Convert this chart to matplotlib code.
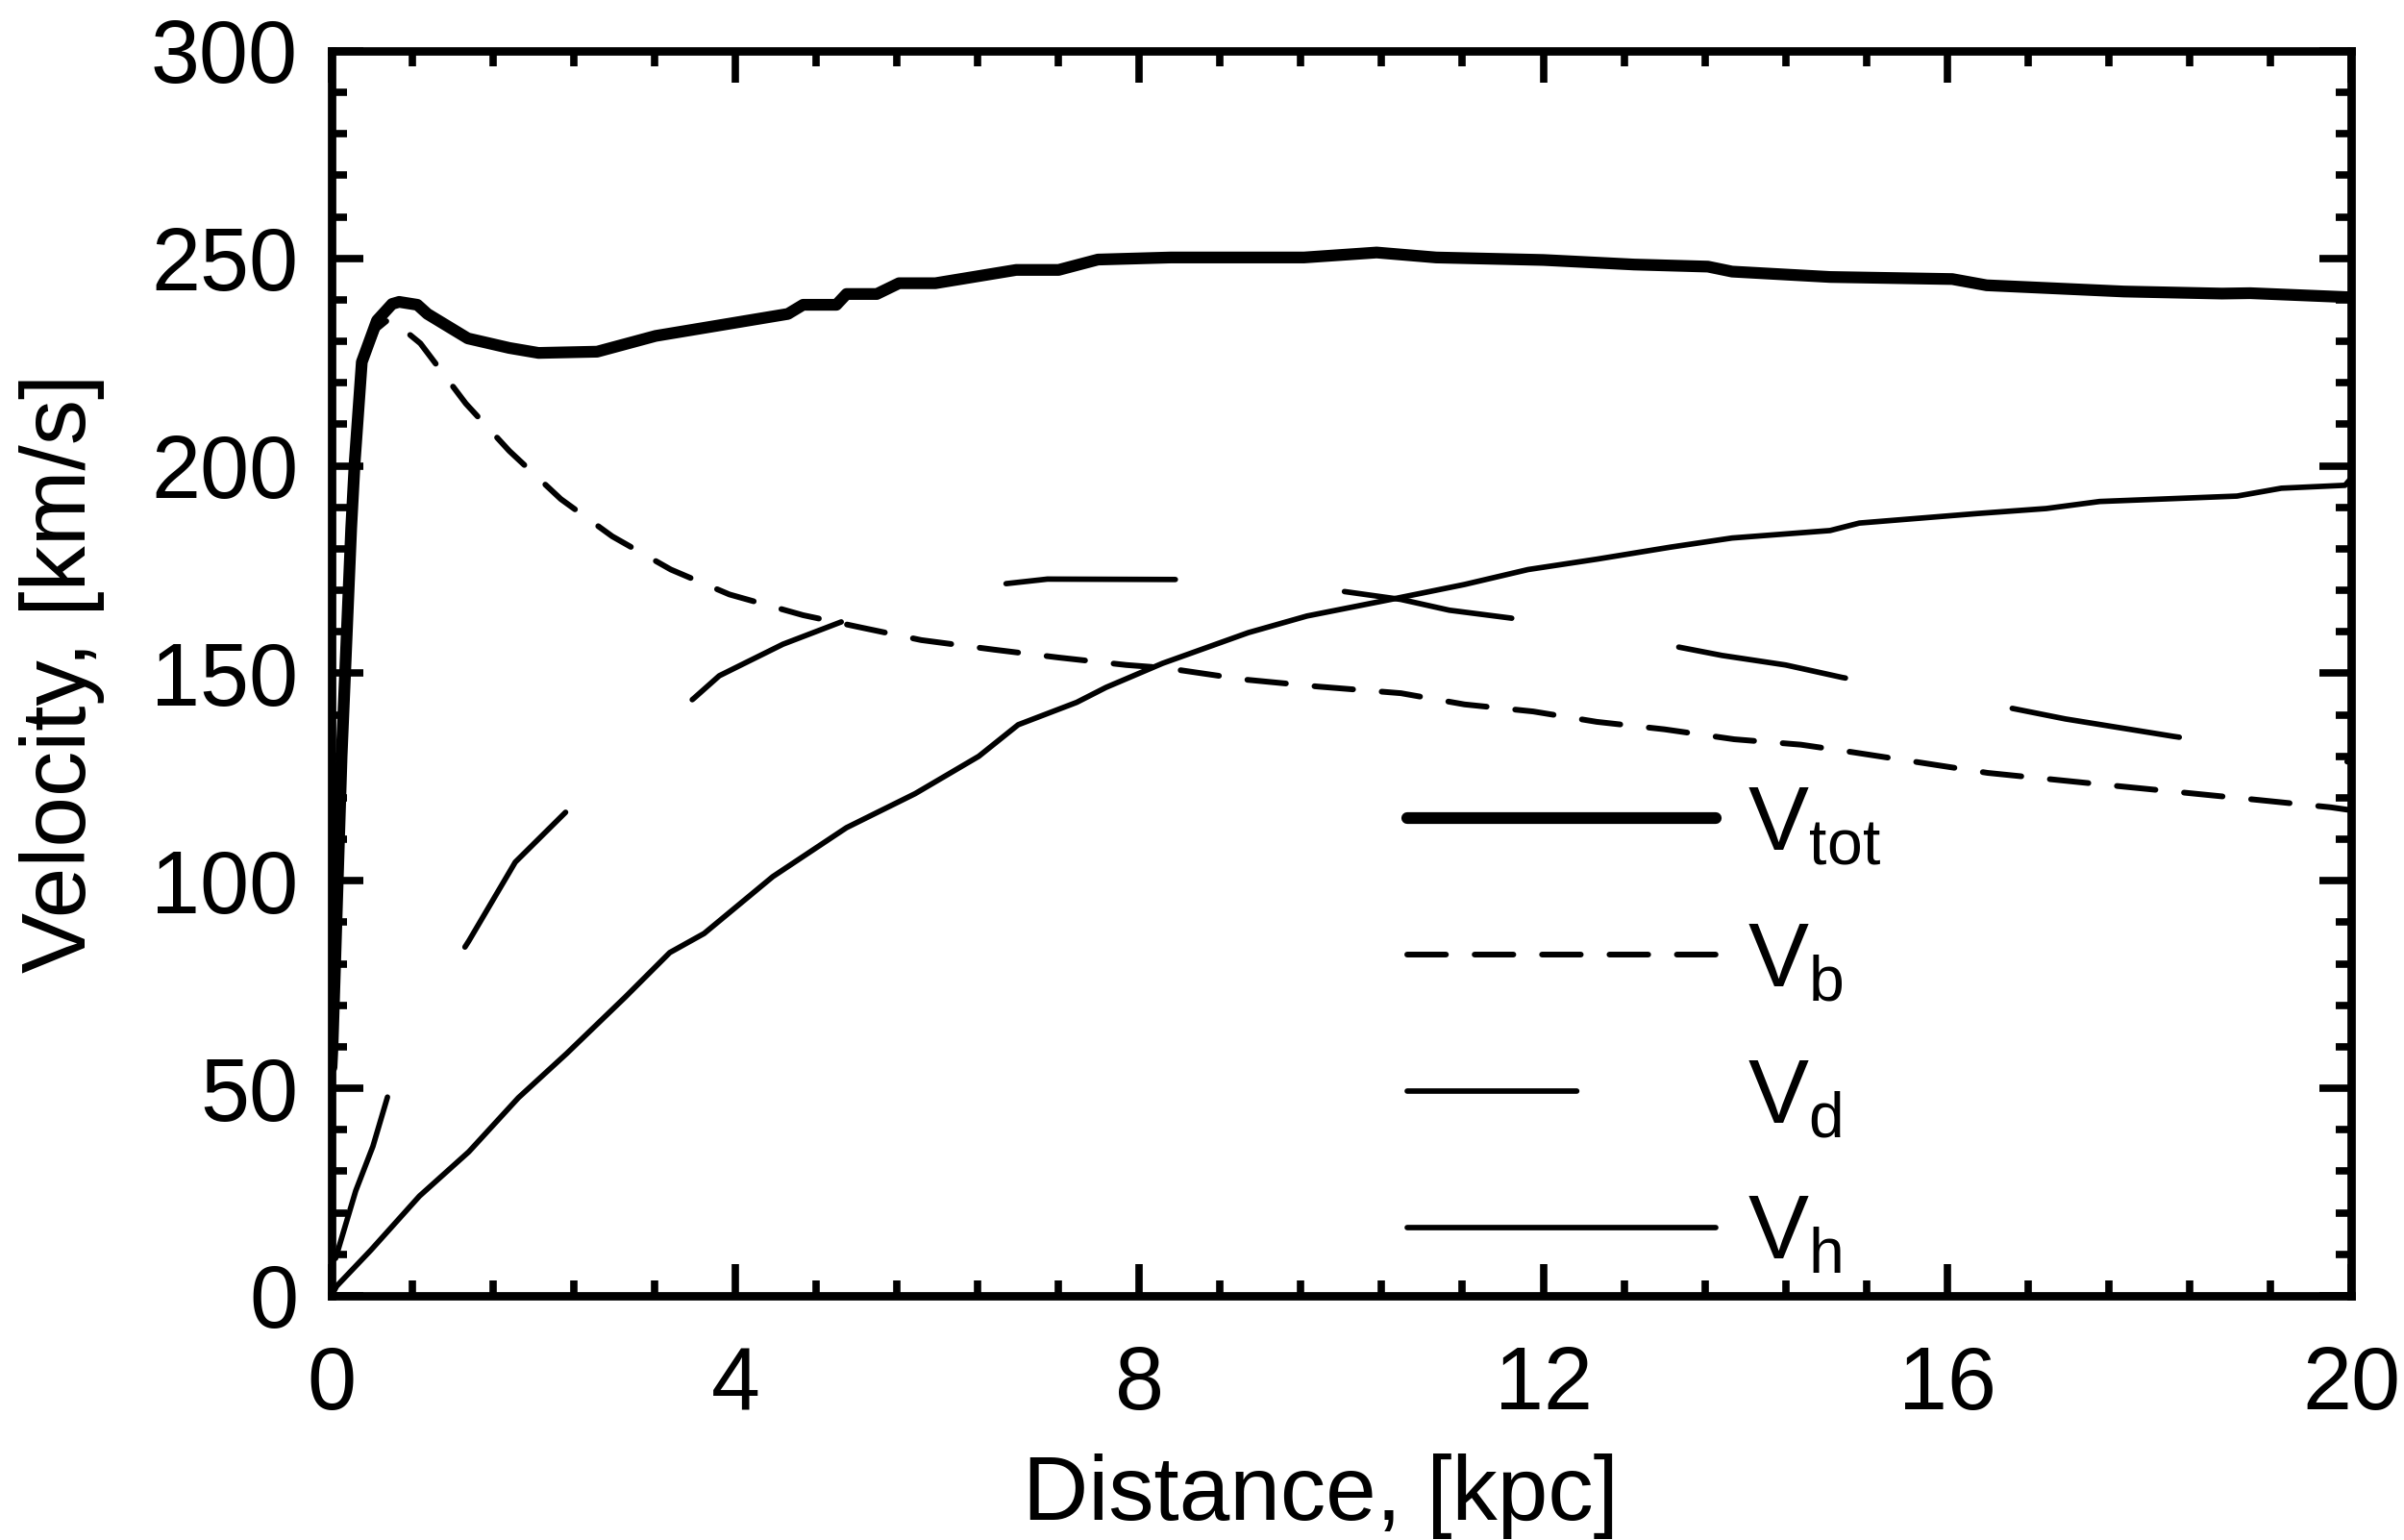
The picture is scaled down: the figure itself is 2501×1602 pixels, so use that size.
import matplotlib
matplotlib.use("Agg")
import matplotlib.pyplot as plt
from matplotlib.ticker import MultipleLocator

# ── data (kpc, km/s) ─────────────────────────────────────────────────────────
r_tot = [0.0, 0.01, 0.1, 0.195, 0.23, 0.3, 0.45, 0.6, 0.67, 0.85, 0.95, 1.35,
         1.76, 2.05, 2.63, 3.21, 4.52, 4.67, 5.0, 5.1, 5.4, 5.62, 5.98, 6.78,
         7.2, 7.59, 8.31, 9.63, 10.35, 10.94, 12.0, 12.9, 13.63, 13.87, 14.84,
         16.05, 16.39, 17.75, 18.72, 19.0, 20.0]
v_tot = [55, 60, 130, 185, 201, 225, 235, 239, 239.5, 238.8, 236.6, 230.7,
         228.4, 227.2, 227.5, 231.3, 236.6, 238.8, 238.8, 241.4, 241.4, 244,
         244, 247.2, 247.2, 249.7, 250.2, 250.2, 251.4, 250.2, 249.6, 248.5,
         248, 246.8, 245.5, 245, 243.5, 242, 241.5, 241.6, 240.6]

r_b = [0.0, 0.01, 0.1, 0.2, 0.3, 0.45, 0.55, 0.63, 0.88, 1.33, 1.76, 2.27,
       2.78, 3.36, 3.94, 4.67, 5.25, 5.84, 6.56, 7.2, 7.87, 8.25, 9.04, 9.77,
       10.59, 11.22, 11.9, 12.53, 13.2, 13.89, 14.55, 15.06, 16.4, 17.7,
       19.07, 19.8, 20.0]
v_b = [0, 58, 129, 184, 224, 233, 235, 234.5, 229.5, 215, 203.6, 192, 183,
       175, 169, 164, 161, 158, 155.7, 153.8, 152, 151.3, 148.5, 146.8, 145.2,
       142.5, 140.8, 138.3, 136.5, 134.1, 132.8, 131, 126, 122.8, 119.5,
       117.7, 117]

r_d = [0.04, 0.24, 0.41, 0.58, 0.9, 1.36, 1.82, 2.38, 3.0, 3.59, 3.84, 4.47,
       5.05, 5.8, 6.68, 7.09, 8.39, 9.2, 10.0, 10.59, 11.07, 11.68, 13.28,
       13.77, 14.4, 14.96, 16.55, 17.17, 18.24, 19.9, 20.0]
v_d = [9, 25.3, 36, 50, 68, 85.5, 104.5, 118, 132, 144, 149.4, 157, 162.4,
       168, 171.6, 172.7, 172.6, 171.5, 169.8, 167.8, 165.2, 163.3, 156.6,
       154.3, 152, 149, 142, 139, 134.8, 129, 128.5]

r_h = [0.0, 0.05, 0.39, 0.87, 1.36, 1.85, 2.33, 2.91, 3.35, 3.69, 4.37, 5.1,
       5.78, 6.41, 6.8, 7.38, 7.67, 8.23, 9.08, 9.66, 10.49, 11.22, 11.85,
       12.53, 13.26, 13.87, 14.84, 15.13, 16.3, 16.98, 17.51, 18.87, 19.31,
       19.94, 20.0]
v_h = [0, 2.3, 11, 24, 34.7, 47.7, 58.4, 72, 82.7, 87.3, 101, 112.8, 121,
       130, 137.6, 143, 146.6, 152.4, 159.8, 163.8, 167.8, 171.4, 175, 177.5,
       180.4, 182.6, 184.4, 186.2, 188.5, 189.7, 191.4, 192.7, 194.6, 195.3,
       197]

labels = [r"V$_{\mathregular{tot}}$", r"V$_{\mathregular{b}}$",
          r"V$_{\mathregular{d}}$", r"V$_{\mathregular{h}}$"]

plt.rcParams["font.family"] = ["Liberation Sans", "DejaVu Sans"]
plt.rcParams["mathtext.fontset"] = "custom"
plt.rcParams["mathtext.rm"] = "Liberation Sans"
plt.rcParams["lines.scale_dashes"] = False

fig = plt.figure(figsize=(25.01, 16.02), dpi=100)
ax = fig.add_axes([0.1379, 0.1586, 0.8401, 0.8084])

ax.plot(r_tot, v_tot, color="black", lw=8.8, solid_capstyle="round",
        solid_joinstyle="round", label=labels[0])
ax.plot(r_b, v_b, color="black", lw=4.3, ls=(0, (29, 21.5)),
        dash_capstyle="round", label=labels[1])
ax.plot(r_d, v_d, color="black", lw=4.1, ls=(0, (127, 127)),
        dash_capstyle="round", label=labels[2])
ax.plot(r_h, v_h, color="black", lw=4.1, solid_capstyle="round",
        label=labels[3])

ax.set_xlim(0, 20)
ax.set_ylim(0, 300)
ax.xaxis.set_major_locator(MultipleLocator(4))
ax.xaxis.set_minor_locator(MultipleLocator(0.8))
ax.yaxis.set_major_locator(MultipleLocator(50))
ax.yaxis.set_minor_locator(MultipleLocator(10))

for s in ax.spines.values():
    s.set_linewidth(6.3)
ax.tick_params(which="both", direction="in", top=True, right=True,
               labelsize=66, width=5.5)
ax.tick_params(axis="x", which="both", pad=37)
ax.tick_params(axis="y", which="both", pad=25)
ax.tick_params(which="major", length=24)
ax.tick_params(which="minor", length=11.5)

ax.set_xlabel("Distance, [kpc]", fontsize=68)
ax.set_ylabel("Velocity, [km/s]", fontsize=68)
ax.xaxis.set_label_coords(0.49, -0.127)
ax.yaxis.set_label_coords(-0.1123, 0.5)

ax.legend(loc="upper left", bbox_to_anchor=(0.5326, 0.4115), frameon=False,
          fontsize=68, handlelength=3.4, handletextpad=0.35,
          labelspacing=0.56, borderpad=0, borderaxespad=0)

fig.savefig("out.png", dpi=100, facecolor="white")
